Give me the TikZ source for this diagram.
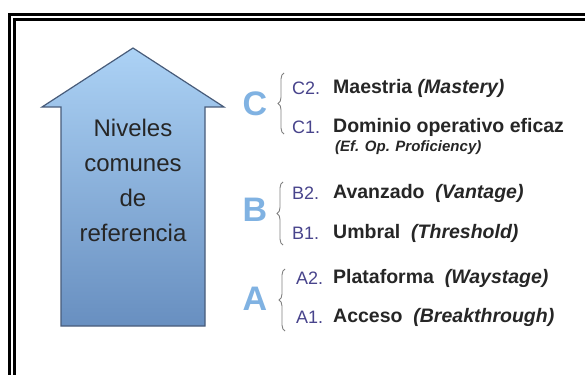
\documentclass[tikz,border=0pt]{standalone}
\usepackage{fontspec}
\setmainfont{Liberation Sans}
\usetikzlibrary{decorations.pathreplacing}

\definecolor{ArrowTop}{RGB}{172,210,245}
\definecolor{ArrowBottom}{RGB}{104,143,192}
\definecolor{ArrowLine}{RGB}{72,92,122}
\definecolor{LevelBlue}{RGB}{128,178,226}
\definecolor{CodePurple}{RGB}{72,68,140}
\definecolor{DescGray}{RGB}{38,38,38}

\tikzset{
  letter/.style={text=LevelBlue, font=\fontsize{34}{34}\selectfont\bfseries},
  code/.style={anchor=west, inner sep=0pt, text=CodePurple, font=\fontsize{18}{20}\selectfont},
  desc/.style={anchor=west, inner sep=0pt, text=DescGray, font=\fontsize{19.5}{22}\selectfont\bfseries},
  subdesc/.style={anchor=west, inner sep=0pt, text=DescGray, font=\fontsize{15}{17}\selectfont\bfseries\itshape},
  levelbrace/.style={draw=gray, line width=0.9pt, decorate, decoration={brace, amplitude=6pt}}
}

\begin{document}
\begin{tikzpicture}[x=1pt,y=-1pt]

		\fill [white] (0,0) rectangle (585,374);
		\useasboundingbox (0,0) rectangle (585,374);

		% frame
		\draw [black, line width=2.6pt, double=white, double distance=2.4pt] (12,17) rectangle (640,440);

		% big arrow
		\shade [top color=ArrowTop, bottom color=ArrowBottom, draw=ArrowLine, line width=1.2pt]
			(61,326) -- (61,107) -- (42,107) -- (133,48) -- (224,107) -- (205,107) -- (205,326) -- cycle;
		\node (Niveles) at (133,180) [align=center, text=DescGray, font=\fontsize{24}{35}\selectfont]
			{Niveles\\comunes\\de\\referencia};

		% level C
		\node (LetterC) at (255,104) [letter]{C};
		\node (CodeC2) at (292,88) [code]{C2.};
		\node (Maestria) at (333,88) [desc]{Maestria \textit{(Mastery)}};
		\node (CodeC1) at (292,127) [code]{C1.};
		\node (Dominio) at (333,127) [desc]{Dominio operativo eficaz};
		\node (Proficiency) at (335,148) [subdesc]{(Ef. Op. Proficiency)};
		\coordinate (BraceCTop) at (284,73);
		\coordinate (BraceCBottom) at (284,134);

		% level B
		\node (LetterB) at (255,210) [letter]{B};
		\node (CodeB2) at (292,193) [code]{B2.};
		\node (Avanzado) at (333,193) [desc]{Avanzado \ \textit{(Vantage)}};
		\node (CodeB1) at (292,233) [code]{B1.};
		\node (Umbral) at (333,233) [desc]{Umbral \ \textit{(Threshold)}};
		\coordinate (BraceBTop) at (283,182);
		\coordinate (BraceBBottom) at (283,245);

		% level A
		\node (LetterA) at (255,299) [letter]{A};
		\node (CodeA2) at (296,278) [code]{A2.};
		\node (Plataforma) at (333,278) [desc]{Plataforma \ \textit{(Waystage)}};
		\node (CodeA1) at (296,317) [code]{A1.};
		\node (Acceso) at (333,317) [desc]{Acceso \ \textit{(Breakthrough)}};
		\coordinate (BraceATop) at (285,269);
		\coordinate (BraceABottom) at (285,331);

		\draw [levelbrace] (BraceCBottom) -- (BraceCTop);
		\draw [levelbrace] (BraceBBottom) -- (BraceBTop);
		\draw [levelbrace] (BraceABottom) -- (BraceATop);
	\end{tikzpicture}
\end{document}
